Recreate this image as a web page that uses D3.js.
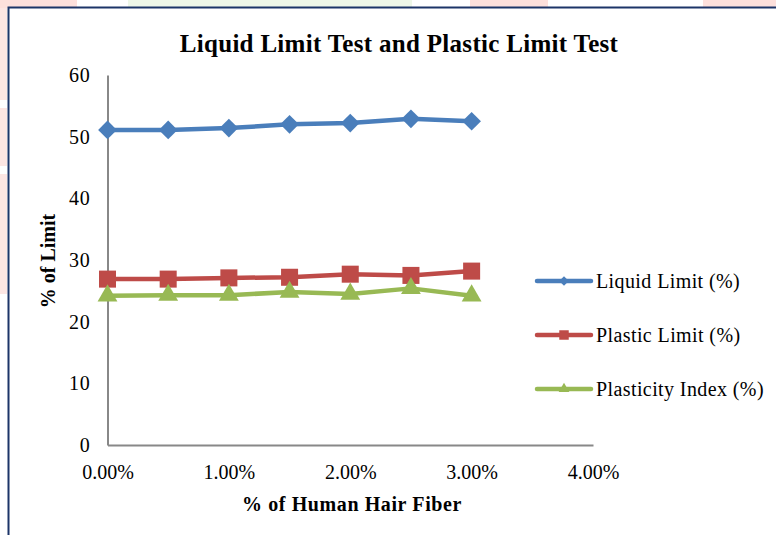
<!DOCTYPE html>
<html>
<head>
<meta charset="utf-8">
<script src="https://cdn.jsdelivr.net/npm/d3@7"></script>
<style>
  html, body { margin: 0; padding: 0; background: #ffffff; }
  svg { display: block; }
  text { font-family: "Liberation Serif", "Times New Roman", serif; fill: #000; }
</style>
</head>
<body>
<svg id="chart" width="776" height="535"></svg>
<script>
// Fibre content (fraction) and the measured Atterberg limits
const fiber = [0, 0.005, 0.010, 0.015, 0.020, 0.025, 0.030];
const liquidLimit = [51.1, 51.1, 51.4, 52.0, 52.2, 52.9, 52.5];
const plasticLimit = [26.9, 26.9, 27.1, 27.2, 27.7, 27.5, 28.2];
const plasticityIndex = [24.2, 24.3, 24.3, 24.8, 24.5, 25.4, 24.2];
const seriesNames = ["Liquid Limit (%)", "Plastic Limit (%)", "Plasticity Index (%)"];
const seriesColors = ["#4a7ebb", "#be4b48", "#98b954"];
const yTicks = [0, 10, 20, 30, 40, 50, 60];
const xTicks = [0, 0.01, 0.02, 0.03, 0.04];

// marker shapes: rotated square (diamond), square, triangle
const markers = [
  { type: d3.symbolSquare, size: 175, rotate: 45, legendSize: 45 },
  { type: d3.symbolSquare, size: 290, rotate: 0, legendSize: 90 },
  { type: d3.symbolTriangle, size: 170, rotate: 0, legendSize: 50 }
];

const svg = d3.select("#chart");

// page decoration: tinted strips and the navy frame
const decor = svg.append("g");
[[0, 0, 77, 8, "#fde0dc"], [128, 0, 284, 8, "#eef7e8"], [470, 0, 78, 8, "#fde0dc"],
 [703, 0, 73, 8, "#fde0dc"], [0, 8, 7, 92, "#fde6e3"], [0, 108, 7, 58, "#fde6e3"],
 [0, 174, 7, 120, "#fde6e3"]].forEach(r => {
  decor.append("rect").attr("x", r[0]).attr("y", r[1]).attr("width", r[2]).attr("height", r[3]).attr("fill", r[4]);
});
decor.append("path").attr("d", "M8.5,535 V7.5 H776").attr("fill", "none")
  .attr("stroke", "#1c3568").attr("stroke-width", 2);

const x = d3.scaleLinear().domain([0, 0.04]).range([107.5, 593]);
const y = d3.scaleLinear().domain([0, 60]).range([445, 75]);

// axes
const yAxis = svg.append("g").attr("transform", `translate(${x(0)},0)`)
  .call(d3.axisLeft(y).tickValues(yTicks).tickSize(0).tickPadding(17).tickFormat(d3.format("d")));
const xAxis = svg.append("g").attr("transform", `translate(0,${y(0)})`)
  .call(d3.axisBottom(x).tickValues(xTicks).tickSize(0).tickPadding(20).tickFormat(d3.format(".2%")));
[yAxis, xAxis].forEach(a => {
  a.select(".domain").attr("stroke", "#888888").attr("stroke-width", 2);
  a.selectAll("text").style("font-size", "20px").attr("fill", "#000");
});
yAxis.selectAll("text").attr("letter-spacing", 0.8);

// series
const allSeries = [liquidLimit, plasticLimit, plasticityIndex];
const line = d3.line().x((d, i) => x(fiber[i])).y(d => y(d));
allSeries.forEach((vals, k) => {
  const m = markers[k];
  svg.append("path").datum(vals).attr("d", line).attr("fill", "none")
    .attr("stroke", seriesColors[k]).attr("stroke-width", 4.5).attr("stroke-linejoin", "round");
  svg.append("g").selectAll("path").data(vals).join("path")
    .attr("transform", (d, i) => `translate(${x(fiber[i])},${y(d)}) rotate(${m.rotate})`)
    .attr("d", d3.symbol(m.type, m.size))
    .attr("fill", seriesColors[k]);
});

// legend
const legend = svg.append("g");
seriesNames.forEach((name, k) => {
  const ly = 281 + k * 54;
  const m = markers[k];
  legend.append("line").attr("x1", 537).attr("x2", 591).attr("y1", ly).attr("y2", ly)
    .attr("stroke", seriesColors[k]).attr("stroke-width", 4.5).attr("stroke-linecap", "round");
  legend.append("path").attr("transform", `translate(564,${ly}) rotate(${m.rotate})`)
    .attr("d", d3.symbol(m.type, m.legendSize)).attr("fill", seriesColors[k]);
  legend.append("text").attr("x", 596).attr("y", ly + 7).style("font-size", "20px")
    .attr("letter-spacing", 0.4).text(name);
});

// titles
svg.append("text").attr("x", 399).attr("y", 52).attr("text-anchor", "middle")
  .style("font-size", "25px").attr("font-weight", "bold").attr("letter-spacing", 0.3)
  .text("Liquid Limit Test and Plastic Limit Test");
svg.append("text").attr("transform", "translate(55,261) rotate(-90)").attr("text-anchor", "middle")
  .style("font-size", "20px").attr("font-weight", "bold").text("% of Limit");
svg.append("text").attr("x", 352).attr("y", 511).attr("text-anchor", "middle")
  .style("font-size", "20px").attr("font-weight", "bold").attr("letter-spacing", 0.6)
  .text("% of Human Hair Fiber");
</script>
</body>
</html>
